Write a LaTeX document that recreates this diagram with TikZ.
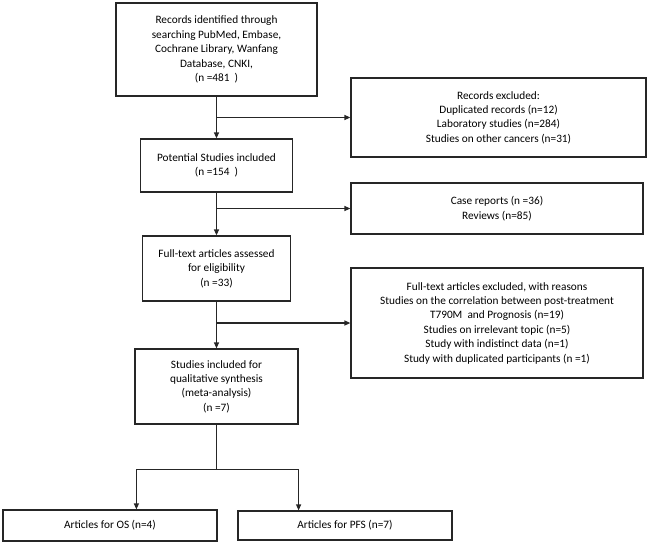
\documentclass[tikz,border=0pt]{standalone}
\usepackage{fontspec}
\setmainfont{Carlito}
\usetikzlibrary{arrows.meta}
\begin{document}
\begin{tikzpicture}[
  x=1pt, y=-1pt,
  box/.style={draw=black!85, line width=1.2pt, align=center, inner sep=0pt,
    font=\fontsize{11.3}{14.4}\selectfont},
  flow/.style={line width=1.2pt, black!85, ->, >={Stealth[length=6pt, width=5pt, inset=0pt]}}
]
  \useasboundingbox (0,0) rectangle (650,546);

  % Main column of the flow (records down to included studies)
  \node[box, minimum width=201pt, minimum height=93pt] (records) at (216.5,49.5)
    {Records identified through\\searching PubMed, Embase,\\Cochrane Library, Wanfang\\Database, CNKI,\\(n =481\ \ )};
  \node[box, minimum width=152pt, minimum height=53pt] (potential) at (216.5,165.5)
    {Potential Studies included\\(n =154\ \ )};
  \node[box, minimum width=148pt, minimum height=65pt] (fulltext) at (216.5,268.5)
    {Full-text articles assessed\\for eligibility\\(n =33)};
  \node[box, minimum width=163pt, minimum height=75pt] (included) at (216.5,386.5)
    {Studies included for\\qualitative synthesis\\(meta-analysis)\\(n =7)};

  % Exclusion boxes on the right
  \node[box, minimum width=295pt, minimum height=79pt] (excl1) at (498.5,117.5)
    {Records excluded:\\Duplicated records (n=12)\\Laboratory studies (n=284)\\Studies on other cancers (n=31)};
  \node[box, minimum width=292pt, minimum height=51pt] (excl2) at (497,208.5)
    {Case reports (n =36)\\Reviews (n=85)};
  \node[box, minimum width=292pt, minimum height=110pt] (excl3) at (497,323)
    {Full-text articles excluded, with reasons\\Studies on the correlation between post-treatment\\T790M\ \ and Prognosis (n=19)\\Studies on irrelevant topic (n=5)\\Study with indistinct data (n=1)\\Study with duplicated participants (n =1)};

  % Outcome boxes at the bottom
  \node[box, minimum width=214pt, minimum height=31pt] (os) at (110,525.5)
    {Articles for OS (n=4)};
  \node[box, minimum width=214pt, minimum height=29pt] (pfs) at (345,525.5)
    {Articles for PFS (n=7)};

  % Downward arrows
  \draw[flow] (records) -- (potential);
  \draw[flow] (potential) -- (fulltext);
  \draw[flow] (fulltext) -- (included);

  % Side arrows to the exclusions
  \draw[flow] (records.south |- excl1.west) -- (excl1.west);
  \draw[flow] (potential.south |- excl2.west) -- (excl2.west);
  \draw[flow] (fulltext.south |- excl3.west) -- (excl3.west);

  % Split into OS and PFS
  \coordinate (split) at (216.5,469.5);
  \draw[line width=1.2pt, black!85] (included) -- (split);
  \draw[flow] (split) -| ([xshift=2pt]included.west |- os.north);
  \draw[flow] (split) -| (included.east |- pfs.north);
\end{tikzpicture}
\end{document}
